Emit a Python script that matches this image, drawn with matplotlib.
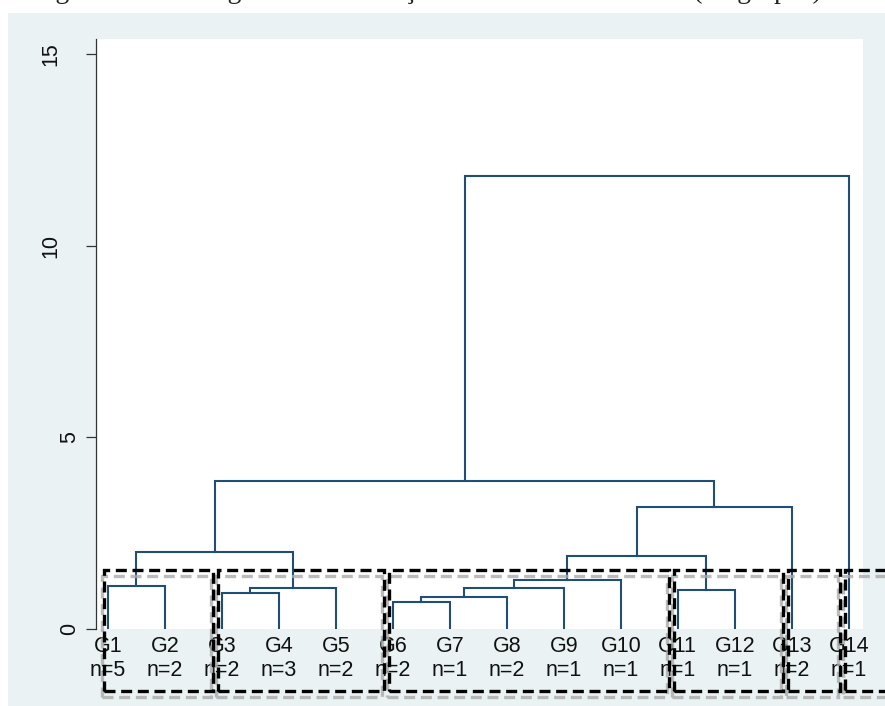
import matplotlib
matplotlib.use("Agg")
import matplotlib.pyplot as plt
import matplotlib.transforms as mtransforms
from matplotlib.patches import Rectangle

# ---- data ----
labels = ["G1", "G2", "G3", "G4", "G5", "G6", "G7", "G8", "G9", "G10", "G11", "G12", "G13", "G14"]
counts = [5, 2, 2, 3, 2, 2, 1, 2, 1, 1, 1, 1, 2, 1]
# merges: (child a, child b, height); leaves 0..13, new clusters numbered from 14
merge_a = [0, 2, 15, 14, 5, 18, 19, 20, 10, 21, 23, 17, 25]
merge_b = [1, 3, 4, 16, 6, 7, 8, 9, 11, 22, 12, 24, 13]
merge_h = [1.12, 0.94, 1.07, 2.01, 0.70, 0.83, 1.07, 1.28, 1.02, 1.90, 3.19, 3.86, 11.83]
yticks = [0, 5, 10, 15]
ytick_labels = ["0", "5", "10", "15"]
# boxed groups (first leaf, last leaf)
box_start = [0, 2, 5, 10, 12, 13]
box_end = [1, 4, 9, 11, 12, 13]
title = "Figura 4 – Dendograma da formação da Análise de Cluster (14 grupos)"

W, H = 885, 706
fig = plt.figure(figsize=(W / 100, H / 100), dpi=100, facecolor="white")
fig.patches.append(Rectangle((8 / W, 0), 1, (H - 13) / H, transform=fig.transFigure,
                             facecolor="#EAF2F3", edgecolor="none", zorder=-10))

ax = fig.add_axes([96 / W, (H - 629) / H, (863 - 96) / W, (629 - 39) / H])
ax.set_facecolor("white")

n = len(labels)
xpos = {i: float(i) for i in range(n)}
hpos = {i: 0.0 for i in range(n)}
lc = "#1f4e79"
for k, (a, b, h) in enumerate(zip(merge_a, merge_b, merge_h)):
    xa, xb = xpos[a], xpos[b]
    ax.plot([xa, xa, xb, xb], [hpos[a], h, h, hpos[b]], color=lc, lw=1.5,
            solid_joinstyle="miter", zorder=3)
    new = n + k
    xpos[new] = (xa + xb) / 2
    hpos[new] = h

ax.set_xlim(-0.21, 13.25)
ax.set_ylim(0, 15.4)

for s in ["top", "right", "bottom"]:
    ax.spines[s].set_visible(False)
ax.spines["left"].set_color("#333333")
ax.spines["left"].set_linewidth(0.9)

ax.set_yticks(yticks)
ax.set_yticklabels([""] * len(yticks))
ax.tick_params(axis="y", length=7, width=0.9, color="#333333")
ytr = mtransforms.blended_transform_factory(fig.transFigure, ax.transData)
for v, t in zip(yticks, ytick_labels):
    xc = 51 if len(t) > 1 else 70
    ax.text(xc / W, v, t, transform=ytr, rotation=90, ha="center", va="center",
            fontsize=15.5, family=["Liberation Sans", "DejaVu Sans"], color="#111111")

ax.set_xticks(range(n))
ax.set_xticklabels([f"{g}\nn={c}" for g, c in zip(labels, counts)],
                   fontsize=15.5, family=["Liberation Sans", "DejaVu Sans"],
                   linespacing=1.22, color="#111111")
ax.tick_params(axis="x", length=0, pad=5)

# dashed boxes with gray shadow
shadow = mtransforms.offset_copy(ax.transData, fig=fig, x=-2, y=-6, units="dots")
ylo, yhi = -1.62, 1.54
for s, e in zip(box_start, box_end):
    x0, x1 = s - 0.07, e + 0.85
    ax.add_patch(Rectangle((x0, ylo), x1 - x0, yhi - ylo, transform=shadow,
                           fill=False, edgecolor="#aaaaaa", lw=2.4,
                           linestyle=(0, (3.3, 1.7)), clip_on=False, zorder=4, alpha=0.8))
    ax.add_patch(Rectangle((x0, ylo), x1 - x0, yhi - ylo,
                           fill=False, edgecolor="black", lw=2.4,
                           linestyle=(0, (3.3, 1.7)), clip_on=False, zorder=5))

fig.text(822 / W, 1 + 2.5 / H, title, ha="right", va="baseline", fontsize=20,
         family=["Liberation Serif", "DejaVu Serif"], color="#222222")

fig.savefig("out.png", dpi=100, facecolor="white")
